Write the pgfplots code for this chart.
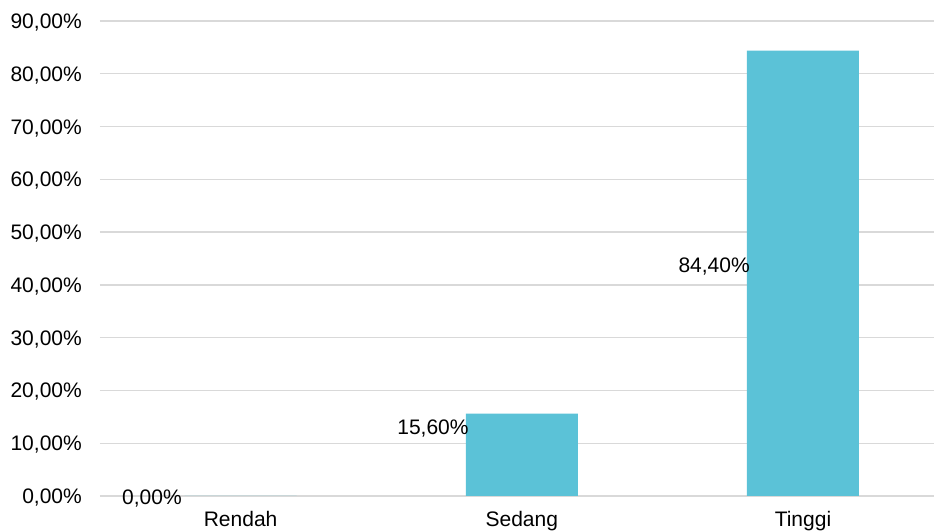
\documentclass[border=0pt]{standalone}
\usepackage{pgfplots}
\pgfplotsset{compat=1.18}
\usepackage{fontspec}
\setmainfont{Liberation Sans}
\usetikzlibrary{calc}
\definecolor{barc}{RGB}{91,194,215}
\definecolor{gridc}{RGB}{217,217,217}
\begin{document}
\begin{tikzpicture}
\begin{axis}[
  scale only axis, width=834pt, height=475pt,
  xmin=-0.5, xmax=2.466, ymin=0, ymax=90,
  axis line style={draw=none},
  ytick={0,10,...,90},
  yticklabels={{0,00\%},{10,00\%},{20,00\%},{30,00\%},{40,00\%},{50,00\%},{60,00\%},{70,00\%},{80,00\%},{90,00\%}},
  xtick={0,1,2}, xticklabels={Rendah,Sedang,Tinggi},
  major tick length=0pt,
  ymajorgrids, major grid style={draw=gridc, line width=1.4pt},
  tick label style={font=\fontsize{21}{25}\selectfont, text=black},
  yticklabel style={anchor=east, inner sep=0pt, xshift=-18pt, yshift=-1.5pt},
  xticklabel style={anchor=base, inner sep=0pt, yshift=-31pt},
  /pgf/number format/assume math mode=true,
  clip=false,
]
\addplot[ybar, bar width=112pt, fill=barc, draw=none] coordinates {(0,0) (1,15.6) (2,84.4)};
\addplot[draw=none, mark=none, point meta=explicit symbolic, nodes near coords,
  every node near coord/.append style={anchor=east, xshift=-53pt, yshift=-1.5pt, inner sep=0pt, font=\fontsize{21}{25}\selectfont, text=black}]
  coordinates {(-0.02,-0.2) [0,00\%] (1,13) [15,60\%] (2,43.8) [84,40\%]};
\end{axis}
\pgfresetboundingbox
\path ($(current axis.south west)+(-100pt,-35pt)$) rectangle ($(current axis.north east)+(0pt,21pt)$);
\end{tikzpicture}
\end{document}
